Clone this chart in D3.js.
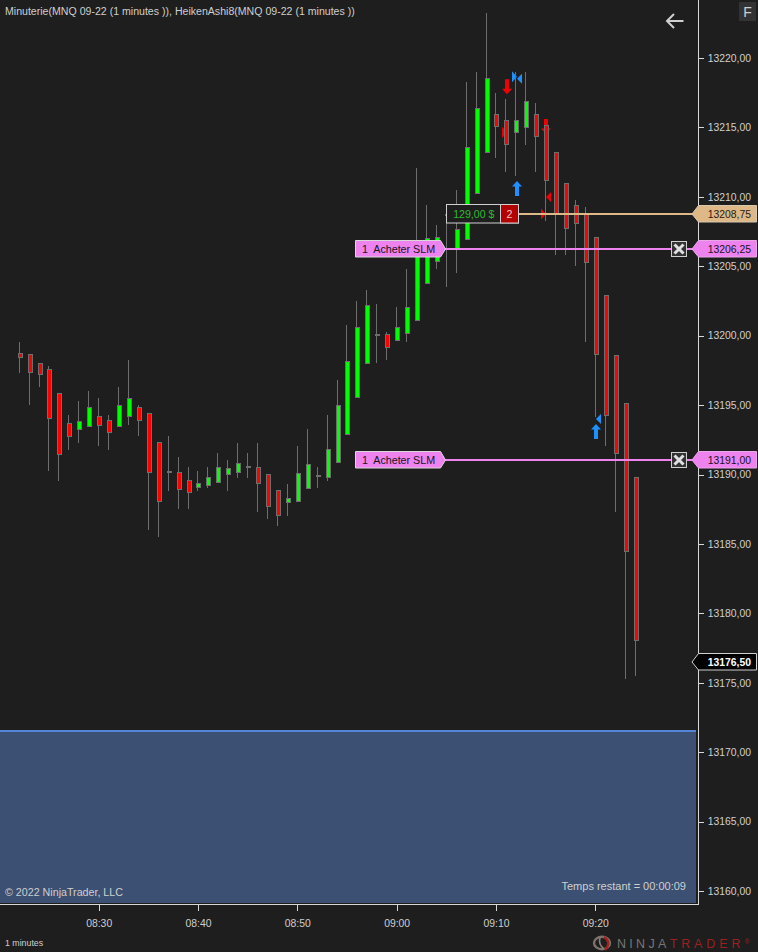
<!DOCTYPE html>
<html><head><meta charset="utf-8">
<script src="https://cdn.jsdelivr.net/npm/d3@7"></script>
<style>
html,body{margin:0;padding:0;background:#1e1e1e;overflow:hidden}
svg{display:block}
text{font-family:"Liberation Sans",Arial,sans-serif}
</style></head><body>
<div id="chart"></div>
<script>
// ---- data (prices) ----
const firstBar = "08:22";
const opens = [13198.73,13198.66,13198.01,13197.58,13195.85,13193.69,13193.26,13193.51,13194.19,13193.90,13193.51,13194.23,13194.84,13194.41,13192.32,13190.20,13190.16,13189.58,13189.12,13189.26,13189.48,13190.01,13190.20,13190.52,13190.52,13190.01,13188.86,13188.00,13188.11,13189.05,13189.91,13189.84,13190.88,13192.92,13195.56,13198.05,13200.05,13200.10,13199.67,13200.17,13201.11,13203.77,13205.40,13208.69,13206.31,13206.94,13210.25,13213.25,13215.94,13215.51,13214.65,13215.05,13215.94,13215.17,13213.21,13211.00,13209.41,13208.76,13207.09,13202.91,13198.59,13195.13,13189.80];
const highs = [13199.54,13198.66,13198.01,13197.81,13195.85,13194.29,13195.29,13196.01,13195.49,13194.29,13196.30,13198.25,13195.01,13194.41,13192.32,13192.77,13191.26,13190.54,13190.25,13190.54,13191.55,13191.04,13192.27,13191.55,13192.27,13190.01,13188.86,13189.31,13192.05,13193.28,13190.54,13194.29,13196.81,13200.77,13202.50,13203.29,13202.28,13200.26,13202.06,13204.80,13212.08,13209.41,13207.97,13209.41,13210.49,13218.25,13218.99,13223.24,13217.48,13217.05,13218.99,13218.99,13216.76,13215.17,13213.21,13211.00,13209.77,13209.27,13207.09,13202.91,13198.59,13195.13,13189.80];
const lows = [13197.33,13195.03,13196.32,13190.27,13189.55,13191.76,13192.29,13193.51,13192.07,13191.76,13193.51,13193.56,13192.77,13186.00,13185.52,13188.81,13187.51,13187.51,13188.81,13189.03,13189.48,13188.81,13189.75,13189.75,13187.30,13186.79,13186.31,13187.03,13188.11,13189.05,13189.03,13189.53,13190.88,13192.92,13195.56,13198.05,13198.05,13198.25,13199.67,13199.57,13201.11,13203.77,13204.80,13203.53,13204.54,13206.94,13210.25,13213.25,13212.82,13211.81,13211.52,13213.75,13211.81,13208.28,13205.81,13205.81,13205.04,13199.57,13194.14,13192.07,13187.32,13175.27,13175.51];
const closes = [13198.48,13197.36,13197.22,13194.09,13191.45,13192.79,13193.83,13194.84,13193.59,13193.08,13194.98,13195.49,13193.95,13190.20,13188.11,13190.20,13188.98,13188.76,13189.37,13189.80,13190.52,13190.45,13190.81,13190.52,13189.41,13187.75,13187.10,13188.29,13190.09,13190.73,13189.91,13191.81,13194.98,13198.15,13200.60,13202.19,13200.05,13199.20,13200.65,13202.09,13206.17,13207.01,13207.09,13208.69,13207.66,13213.59,13216.38,13218.54,13215.12,13213.78,13215.51,13216.88,13214.36,13211.19,13208.76,13207.73,13208.14,13205.33,13198.70,13194.31,13191.57,13184.51,13178.06];
const priceTicks = [13220,13215,13210,13205,13200,13195,13190,13185,13180,13175,13170,13165,13160];
const timeTicks = ["08:30","08:40","08:50","09:00","09:10","09:20"];
const currentPrice = 13176.50;
const targetPrice = 13208.75;
const orderPrices = [13206.25,13191.00];
const zonePrice = 13171.5;
const arrowsDown = [{t:"09:11",p:13217.39,c:"#f00000",dx:2},{t:"09:15",p:13214.53,c:"#f00000",dx:1}];
const arrowsUp = [{t:"09:12",p:13211.14,c:"#1e90ff",dx:2},{t:"09:20",p:13193.64,c:"#1e90ff",dx:1}];
const triRight = [{t:"09:12",p:13218.65,c:"#1e90ff",dx:-3},{t:"09:11",p:13214.65,c:"#f00000",dx:-3},{t:"09:15",p:13208.76,c:"#f00000",dx:-4}];
const triLeft = [{t:"09:12",p:13218.51,c:"#1e90ff",dx:2},{t:"09:15",p:13209.99,c:"#f00000",dx:1},{t:"09:20",p:13194.0,c:"#1e90ff",dx:1}];
const pnlText = "129,00 $";
const qtyText = "2";
const orderText = "1  Acheter SLM";
const titleText = "Minuterie(MNQ 09-22 (1 minutes )), HeikenAshi8(MNQ 09-22 (1 minutes ))";

// ---- layout ----
const W=758,H=952,plotR=696,axisX=698,plotB=903;
const BG="#1e1e1e",TXT="#cfcfcf",LINE="#d8d8d8",VIOLET="#ee82ee",TAN="#deb887";
const parse=d3.timeParse("%H:%M");
const fr=d3.formatLocale({decimal:",",thousands:"",grouping:[3],currency:["","$"]});
const fmtP=fr.format(".2f");
const x=d3.scaleTime().domain([parse("08:22"),parse("09:20")]).range([19.2,595.3]);
const y=d3.scaleLinear().domain([13220,13160]).range([58,891]);
const times=opens.map((_,i)=>d3.timeMinute.offset(parse(firstBar),i));
const X=t=>Math.floor(x(t));
const Yr=p=>Math.round(y(p)-0.2);

const svg=d3.select("#chart").append("svg").attr("width",W).attr("height",H);
svg.append("rect").attr("width",W).attr("height",H).attr("fill",BG);

// zone
svg.append("rect").attr("x",0).attr("y",y(zonePrice)).attr("width",plotR).attr("height",plotB-y(zonePrice)).attr("fill","#3b5072");
svg.append("rect").attr("x",0).attr("y",Math.round(y(zonePrice))-1).attr("width",plotR).attr("height",2).attr("fill","#5585d6");

// markers (under the bars)
const mk=svg.append("g");
function arrow(d,s){
  const cx=X(parse(d.t))+d.dx, ty=y(d.p);
  const pts=[[0,0],[5,s*5.5],[2,s*5.5],[2,s*15],[-2,s*15],[-2,s*5.5],[-5,s*5.5]];
  mk.append("polygon").attr("fill",d.c).attr("points",pts.map(p=>[cx+p[0],ty+p[1]].join(",")).join(" "));
}
arrowsDown.forEach(d=>arrow(d,-1));
arrowsUp.forEach(d=>arrow(d,1));
triRight.forEach(d=>{const cx=X(parse(d.t))+d.dx,cy=y(d.p);
  mk.append("polygon").attr("fill",d.c).attr("points",`${cx},${cy-5.5} ${cx+5},${cy} ${cx},${cy+5.5}`);});
triLeft.forEach(d=>{const cx=X(parse(d.t))+d.dx,cy=y(d.p);
  mk.append("polygon").attr("fill",d.c).attr("points",`${cx+5},${cy-5} ${cx},${cy} ${cx+5},${cy+5}`);});

// candles
const bars=svg.append("g").attr("shape-rendering","crispEdges");
times.forEach((t,i)=>{
  const px=X(t),o=opens[i],c=closes[i];
  bars.append("line").attr("x1",px+.5).attr("x2",px+.5).attr("y1",y(highs[i])).attr("y2",y(lows[i])).attr("stroke","#6e6e6e");
  const top=Math.round(y(Math.max(o,c))),bot=Math.round(y(Math.min(o,c)));
  if(o===c){
    bars.append("rect").attr("x",px-1).attr("y",top-1).attr("width",5).attr("height",2).attr("fill","#6e6e6e");
  } else {
    bars.append("rect").attr("x",px-.5).attr("y",top+.5).attr("width",4).attr("height",Math.max(1,bot-top))
      .attr("fill",c>o?"#00ff00":"#ff0000").attr("stroke","#6e6e6e");
  }
});

// price axis
const axY=svg.append("g").attr("transform",`translate(${axisX},0)`)
  .call(d3.axisRight(y).tickValues(priceTicks).tickFormat(fmtP).tickSize(6).tickPadding(3.7));
axY.select(".domain").remove();
axY.selectAll("line").attr("stroke",LINE).attr("shape-rendering","crispEdges");
axY.selectAll("text").attr("fill",TXT).attr("font-size",10.4).attr("font-family","Liberation Sans");

// time axis
const axX=svg.append("g").attr("transform",`translate(0,905)`)
  .call(d3.axisBottom(x).tickValues(timeTicks.map(parse)).tickFormat(d3.timeFormat("%H:%M")).tickSize(6).tickPadding(8.5));
axX.select(".domain").remove();
axX.selectAll("line").attr("stroke",LINE).attr("shape-rendering","crispEdges");
axX.selectAll("text").attr("fill",TXT).attr("font-size",10.4).attr("font-family","Liberation Sans");

// frame
svg.append("rect").attr("x",axisX).attr("y",0).attr("width",1).attr("height",905).attr("fill",LINE);
svg.append("rect").attr("x",0).attr("y",904).attr("width",axisX+1).attr("height",1).attr("fill",LINE);

function priceTag(p,fill,fg,weight,stroke){
  const c=Yr(p);
  svg.append("polygon").attr("points",`692,${c} 698.5,${c-8.5} 756.5,${c-8.5} 756.5,${c+8} 698.5,${c+8}`)
    .attr("fill",fill).attr("stroke",stroke);
  svg.append("text").attr("x",707.7).attr("y",c+3.7).attr("fill",fg).attr("font-size",10.4).attr("font-weight",weight).text(fmtP(p));
}

// target line and P&L box
const tc=Yr(targetPrice);
svg.append("rect").attr("x",519).attr("y",tc-1).attr("width",174).attr("height",2).attr("fill",TAN);
svg.append("rect").attr("x",446.5).attr("y",tc-9.5).attr("width",72).attr("height",18.5).attr("fill",BG).attr("stroke","#d0d0d0");
svg.append("rect").attr("x",500.5).attr("y",tc-9.5).attr("width",18).attr("height",18.5).attr("fill","#b30000").attr("stroke","#d0d0d0");
svg.append("text").attr("x",473.8).attr("y",tc+3.8).attr("text-anchor","middle").attr("fill","#32b832").attr("font-size",10.6).text(pnlText);
svg.append("text").attr("x",509.5).attr("y",tc+3.8).attr("text-anchor","middle").attr("fill","#f0c8c8").attr("font-size",10.6).text(qtyText);
priceTag(targetPrice,TAN,"#2a1a10","normal","#d8c8b0");

// orders
orderPrices.forEach(p=>{
  const c=Yr(p);
  svg.append("rect").attr("x",445).attr("y",c-1).attr("width",248).attr("height",2).attr("fill",VIOLET);
  svg.append("polygon").attr("points",`355.5,${c-8.5} 440.5,${c-8.5} 445.5,${c} 440.5,${c+8} 355.5,${c+8}`)
    .attr("fill",VIOLET).attr("stroke","#d8d8d8");
  svg.append("text").attr("x",362).attr("y",c+3.7).attr("fill","#15151f").attr("font-size",10.7).style("white-space","pre").text(orderText);
  svg.append("rect").attr("x",671.5).attr("y",c-7.5).attr("width",15).attr("height",15).attr("fill","#333").attr("stroke","#d0d0d0");
  svg.append("path").attr("d",`M674.5,${c-4.5}L683.5,${c+4.5}M683.5,${c-4.5}L674.5,${c+4.5}`).attr("stroke","#e0e0e0").attr("stroke-width",3);
  priceTag(p,VIOLET,"#15151f","normal","#e8a8e8");
});
priceTag(currentPrice,"#000","#fff","bold","#d0d0d0");

// header text
svg.append("text").attr("x",5).attr("y",15).attr("fill",TXT).attr("font-size",10.58).text(titleText);
svg.append("path").attr("d","M683.5,21H667M674,14L667,21L674,28").attr("fill","none").attr("stroke","#d0d0d0").attr("stroke-width",2);
svg.append("rect").attr("x",739).attr("y",2).attr("width",17).attr("height",19).attr("fill","#333");
svg.append("text").attr("x",747.5).attr("y",17).attr("text-anchor","middle").attr("fill","#cfcfcf").attr("font-size",14).text("F");

// footer text
svg.append("text").attr("x",5).attr("y",896).attr("fill",TXT).attr("font-size",10.7).text("© 2022 NinjaTrader, LLC");
svg.append("text").attr("x",561.5).attr("y",890).attr("fill",TXT).attr("font-size",11).text("Temps restant = 00:00:09");
svg.append("text").attr("x",5).attr("y",946).attr("fill",TXT).attr("font-size",8.8).text("1 minutes");

// logo
svg.append("ellipse").attr("cx",602).attr("cy",943).attr("rx",8).attr("ry",6.2).attr("fill","none").attr("stroke","#7e736c").attr("stroke-width",2.4);
svg.append("path").attr("d","M600,938Q598,944 604,949").attr("fill","none").attr("stroke","#8a8078").attr("stroke-width",1.6);
svg.append("path").attr("d","M604,937Q612,942 605,950").attr("fill","none").attr("stroke","#a32020").attr("stroke-width",2.4);
const logo=svg.append("text").attr("x",617).attr("y",948).attr("font-size",12.5).attr("font-family","Liberation Sans");
logo.append("tspan").attr("fill","#767676").attr("letter-spacing",3.3).text("NINJA");
logo.append("tspan").attr("fill","#9c2020").attr("letter-spacing",3.9).text("TRADER");
logo.append("tspan").attr("fill","#9c2020").attr("font-size",7).attr("dy",-4).text("®");
</script>
</body></html>
